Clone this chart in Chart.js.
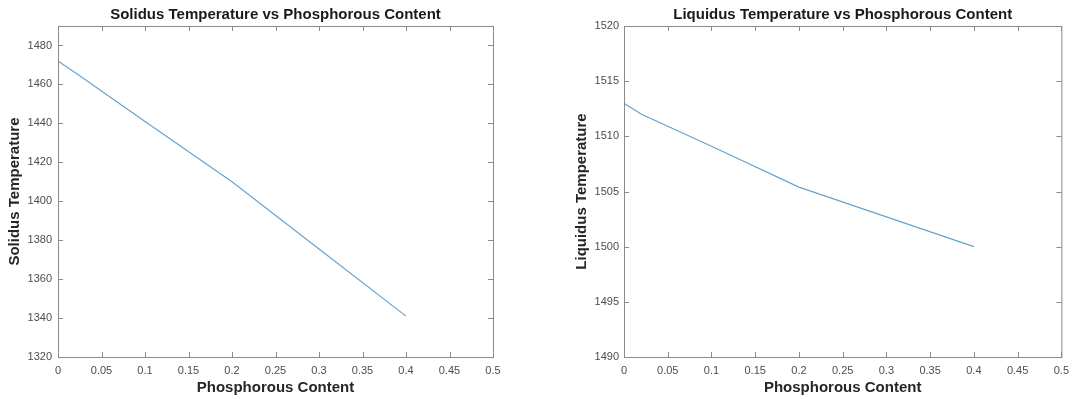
<!DOCTYPE html>
<html>
<head>
<meta charset="utf-8">
<script src="https://cdn.jsdelivr.net/npm/chart.js@4/dist/chart.umd.min.js"></script>
<style>
  html, body { margin: 0; padding: 0; background: #fff; }
  #wrap { position: relative; width: 1076px; height: 399px; }
  .box { position: absolute; top: 0; height: 399px; }
</style>
</head>
<body>
<div id="wrap">
  <div class="box" style="left:0;width:540px"><canvas id="solidus"></canvas></div>
  <div class="box" style="left:540px;width:536px"><canvas id="liquidus"></canvas></div>
</div>
<script>
// ----------- data ----------- //
const phosphorous = [0, 0.02, 0.1, 0.2, 0.3, 0.4];
const solidusTemp = [1472, 1466, 1441, 1410, 1375.5, 1341];
const liquidusTemp = [1513, 1512, 1509.1, 1505.4, 1502.7, 1500];

const xTickLabels = ['0', '0.05', '0.1', '0.15', '0.2', '0.25', '0.3', '0.35', '0.4', '0.45', '0.5'];

const FONT = "'Liberation Sans', Arial, sans-serif";
const AXIS_COLOR = '#8a8a8a';
const LINE_COLOR = '#66a4cf';

// matlab style box: frame + inward ticks on every side, title over the axes
const matlabBox = {
    id: 'matlabBox',
    afterDraw(chart, args, opts) {
        const {ctx, chartArea: a, scales} = chart;
        const tl = 5;
        ctx.save();
        ctx.strokeStyle = AXIS_COLOR;
        ctx.lineWidth = 1;
        ctx.strokeRect(a.left + 0.5, a.top + 0.5, a.right - a.left, a.bottom - a.top);
        ctx.beginPath();
        scales.x.ticks.forEach(t => {
            const px = Math.round(scales.x.getPixelForValue(t.value)) + 0.5;
            ctx.moveTo(px, a.bottom); ctx.lineTo(px, a.bottom - tl);
            ctx.moveTo(px, a.top); ctx.lineTo(px, a.top + tl);
        });
        scales.y.ticks.forEach(t => {
            const py = Math.round(scales.y.getPixelForValue(t.value)) + 0.5;
            ctx.moveTo(a.left, py); ctx.lineTo(a.left + tl, py);
            ctx.moveTo(a.right, py); ctx.lineTo(a.right - tl, py);
        });
        ctx.stroke();
        ctx.fillStyle = '#1a1a1a';
        ctx.font = 'bold 15px ' + FONT;
        ctx.textAlign = 'center';
        ctx.textBaseline = 'middle';
        ctx.fillText(opts.text, (a.left + a.right) / 2, 14.5);
        ctx.restore();
    }
};

const makeChart = (id, values, yLabel, title, yMin, yMax, yStep, yWidth, yTitlePad, yTickPad, rightPad) => {
    return new Chart(document.getElementById(id), {
        type: 'scatter',
        data: {
            datasets: [{
                data: phosphorous.map((p, i) => ({x: p, y: values[i]})),
                showLine: true,
                borderColor: LINE_COLOR,
                borderWidth: 1.2,
                pointRadius: 0,
                tension: 0
            }]
        },
        options: {
            responsive: true,
            maintainAspectRatio: false,
            animation: false,
            layout: { padding: { top: 26, left: 0, right: rightPad, bottom: 0 } },
            plugins: {
                legend: { display: false },
                tooltip: { enabled: false },
                matlabBox: { text: title }
            },
            scales: {
                x: {
                    type: 'linear',
                    min: 0, max: 0.5,
                    grid: { display: false, drawTicks: false },
                    border: { display: false },
                    ticks: {
                        stepSize: 0.05,
                        padding: 7,
                        maxRotation: 0,
                        color: '#4d4d4d',
                        font: { family: FONT, size: 11 },
                        callback: (v) => xTickLabels[Math.round(v / 0.05)]
                    },
                    title: {
                        display: true,
                        text: 'Phosphorous Content',
                        color: '#262626',
                        font: { family: FONT, size: 15, weight: 'bold' },
                        padding: { top: 0, bottom: 2.6 }
                    },
                    afterFit: s => { s.height = 42; }
                },
                y: {
                    min: yMin, max: yMax,
                    grid: { display: false, drawTicks: false },
                    border: { display: false },
                    afterBuildTicks: s => { s.ticks = s.ticks.filter(t => Math.abs((t.value - yMin) % yStep) < 1e-6); },
                    ticks: {
                        stepSize: yStep,
                        padding: yTickPad,
                        color: '#4d4d4d',
                        font: { family: FONT, size: 11 },
                        callback: (v) => String(v)
                    },
                    title: {
                        display: true,
                        text: yLabel,
                        color: '#262626',
                        font: { family: FONT, size: 15, weight: 'bold' },
                        padding: { top: yTitlePad, bottom: 0 }
                    },
                    afterFit: s => { s.width = yWidth; }
                }
            }
        },
        plugins: [matlabBox]
    });
};

makeChart('solidus', solidusTemp, 'Solidus Temperature', 'Solidus Temperature vs Phosphorous Content',
    1320, 1490, 20, 58, 6, 6, 47);
makeChart('liquidus', liquidusTemp, 'Liquidus Temperature', 'Liquidus Temperature vs Phosphorous Content',
    1490, 1520, 5, 84, 32.7, 5, 9);
</script>
</body>
</html>
